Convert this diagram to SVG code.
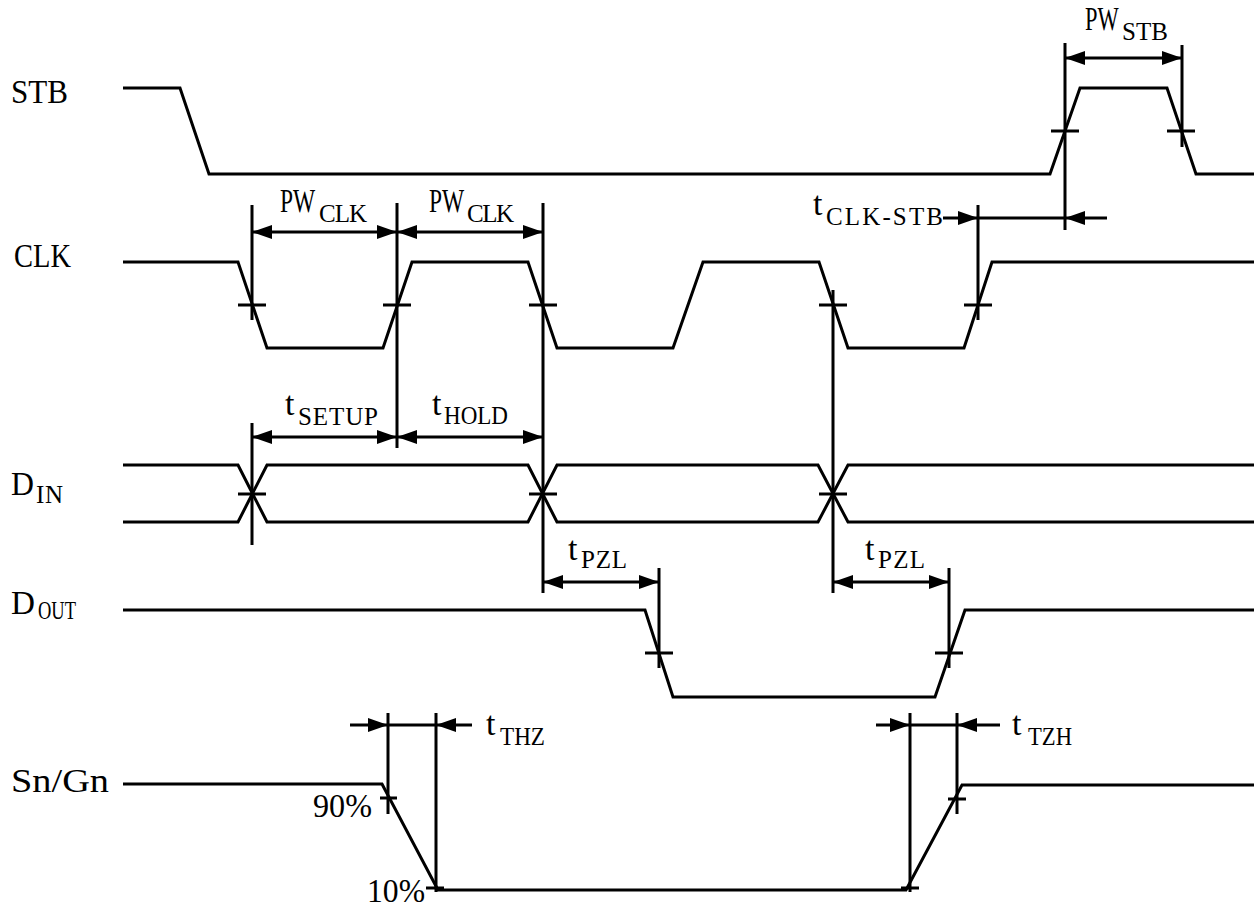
<svg xmlns="http://www.w3.org/2000/svg" width="1260" height="908" viewBox="0 0 1260 908">
<style>
.w{fill:none;stroke:#000;stroke-width:3;stroke-linejoin:miter}
.r{fill:none;stroke:#000;stroke-width:3}
.d{fill:none;stroke:#000;stroke-width:3}
.a{marker-end:url(#ah)}
.b{marker-start:url(#ah);marker-end:url(#ah)}
text{font-family:"Liberation Serif","Times New Roman",serif;fill:#000}
.m{font-size:34px}
.s{font-size:25px}
</style>
<defs>
<marker id="ah" markerUnits="userSpaceOnUse" markerWidth="20" markerHeight="14" refX="20" refY="7" orient="auto-start-reverse">
<path d="M0,0 L20,7 L0,14 z" fill="#000"/>
</marker>
</defs>
<rect width="1260" height="908" fill="#fff"/>

<g id="stb">
<text class="m" x="11" y="103" textLength="57" lengthAdjust="spacingAndGlyphs">STB</text>
<polyline class="w" points="123,88 180,88 209,174 1050,174 1080,88 1167,88 1196,174 1254,174"/>
<path class="r" d="M1051,131 H1079 M1167,131 H1195"/>
</g>

<g id="clk">
<text class="m" x="14" y="267" textLength="57" lengthAdjust="spacingAndGlyphs">CLK</text>
<polyline class="w" points="123,262 238,262 267,348 383,348 412,262 528,262 557,348 673,348 703,262 819,262 848,348 964,348 992,262 1254,262"/>
<path class="r" d="M238,305 H266 M383,305 H411 M529,305 H557 M819,305 H847 M964,305 H992"/>
</g>

<g id="din">
<text class="m" x="11" y="495" textLength="23" lengthAdjust="spacingAndGlyphs">D</text>
<text class="s" x="36" y="503" textLength="27" lengthAdjust="spacing">IN</text>
<polyline class="w" points="123,465 238,465 267,522 528,522 557,465 818,465 848,522 1254,522"/>
<polyline class="w" points="123,522 238,522 267,465 528,465 557,522 818,522 848,465 1254,465"/>
<path class="r" d="M238,494 H266 M529,494 H557 M819,494 H847"/>
</g>

<g id="dout">
<text class="m" x="11" y="614" textLength="24" lengthAdjust="spacingAndGlyphs">D</text>
<text class="s" x="38" y="619" textLength="38" lengthAdjust="spacingAndGlyphs">OUT</text>
<polyline class="w" points="123,610 645,610 673,697 935,697 965,610 1254,610"/>
<path class="r" d="M645,653 H673 M935,653 H963"/>
</g>

<g id="sngn">
<text class="m" x="11" y="792" textLength="98" lengthAdjust="spacingAndGlyphs">Sn/Gn</text>
<polyline class="w" points="123,784 382,784 438,890 906,890 962,785 1254,785"/>
<path class="r" d="M380,798 H397 M426,888 H444 M901,888 H919 M948,799 H966"/>
<text class="m" x="313" y="817" textLength="59" lengthAdjust="spacingAndGlyphs">90%</text>
<text class="m" x="367" y="902" textLength="58" lengthAdjust="spacingAndGlyphs">10%</text>
</g>

<g id="refs">
<path class="r" d="M252,205 V320 M252,423 V545 M397,203 V448 M543,203 V593 M833,290 V593 M978,205 V320 M1065,43 V230 M1182,45 V147 M659,568 V668 M949,568 V668 M388,713 V814 M436,713 V892 M910,713 V892 M957,713 V814"/>
</g>

<g id="connectors">
<line class="d b" x1="1065" y1="58" x2="1182" y2="58"/>
<line class="d b" x1="252" y1="232" x2="397" y2="232"/>
<line class="d b" x1="397" y1="232" x2="543" y2="232"/>
<line class="d b" x1="252" y1="437" x2="397" y2="437"/>
<line class="d b" x1="397" y1="437" x2="543" y2="437"/>
<line class="d b" x1="543" y1="582" x2="659" y2="582"/>
<line class="d b" x1="833" y1="582" x2="949" y2="582"/>
<line class="d a" x1="943" y1="218" x2="978" y2="218"/>
<line class="d" x1="978" y1="218" x2="1065" y2="218"/>
<line class="d a" x1="1107" y1="218" x2="1065" y2="218"/>
<line class="d a" x1="350" y1="725" x2="388" y2="725"/>
<line class="d" x1="388" y1="725" x2="436" y2="725"/>
<line class="d a" x1="472" y1="725" x2="436" y2="725"/>
<line class="d a" x1="876" y1="725" x2="910" y2="725"/>
<line class="d" x1="910" y1="725" x2="957" y2="725"/>
<line class="d a" x1="1000" y1="725" x2="957" y2="725"/>
</g>

<g id="labels">
<text class="m" transform="translate(1085,30) scale(0.66,1)">PW</text>
<text class="s" x="1122" y="40" textLength="46" lengthAdjust="spacing">STB</text>
<text class="m" transform="translate(280,212) scale(0.69,1)">PW</text>
<text class="s" x="319" y="222" textLength="48" lengthAdjust="spacing">CLK</text>
<text class="m" transform="translate(429,212) scale(0.69,1)">PW</text>
<text class="s" x="467" y="222" textLength="47" lengthAdjust="spacing">CLK</text>
<text class="m" x="813" y="215">t</text>
<text class="s" x="826" y="225" textLength="117" lengthAdjust="spacing">CLK-STB</text>
<text class="m" x="285" y="415">t</text>
<text class="s" x="298" y="425" textLength="80" lengthAdjust="spacing">SETUP</text>
<text class="m" x="432" y="415">t</text>
<text class="s" x="444" y="424" textLength="64" lengthAdjust="spacingAndGlyphs">HOLD</text>
<text class="m" x="568" y="560">t</text>
<text class="s" x="581" y="568" textLength="46" lengthAdjust="spacing">PZL</text>
<text class="m" x="865" y="560">t</text>
<text class="s" x="878" y="568" textLength="47" lengthAdjust="spacing">PZL</text>
<text class="m" x="486" y="735">t</text>
<text class="s" x="500" y="745" textLength="45" lengthAdjust="spacingAndGlyphs">THZ</text>
<text class="m" x="1012" y="735">t</text>
<text class="s" x="1028" y="745" textLength="44" lengthAdjust="spacingAndGlyphs">TZH</text>
</g>
</svg>
